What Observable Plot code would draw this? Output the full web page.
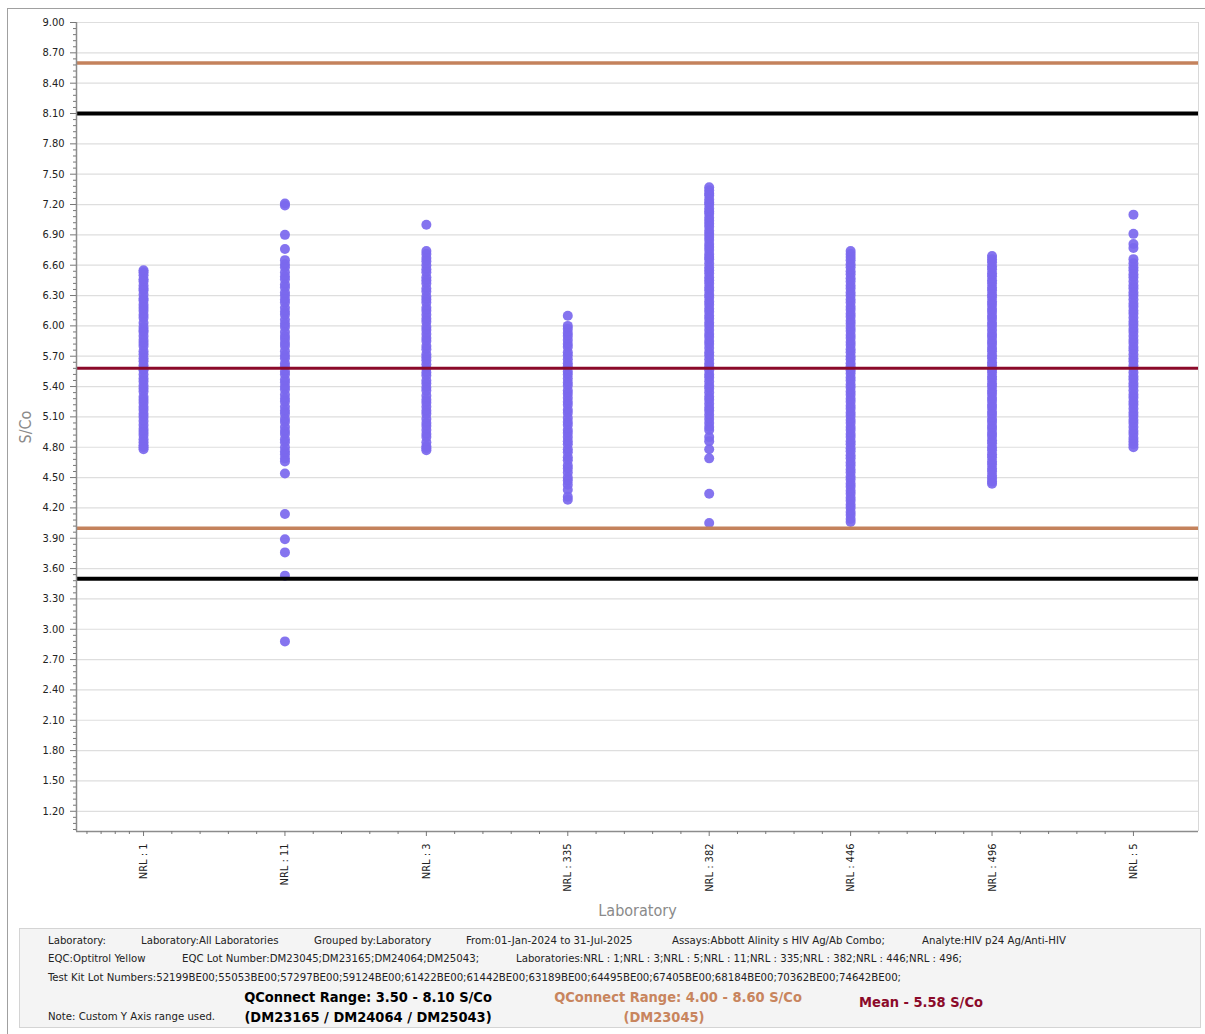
<!DOCTYPE html>
<html>
<head>
<meta charset="utf-8">
<script src="https://cdn.jsdelivr.net/npm/d3@7"></script>
<script src="https://cdn.jsdelivr.net/npm/@observablehq/plot@0.6"></script>
<style>
  html, body { margin: 0; padding: 0; background: #fff; }
  #wrap { position: relative; width: 1205px; height: 1034px; overflow: hidden; font-family: "DejaVu Sans Condensed", "DejaVu Sans", sans-serif; }
  #frame { position: absolute; left: 7px; top: 8px; width: 1300px; height: 1100px; border-top: 1px solid #a0a0a0; border-left: 1px solid #a0a0a0; }
  #chart { position: absolute; left: 0; top: 0; }
  #chart svg [aria-label="y-axis label"] text, #chart svg [aria-label="x-axis label"] text { font-size: 16px; fill: #8a8a8a; }
  #footer { position: absolute; left: 19px; top: 928px; width: 1180px; height: 98px; background: #f4f4f4; border: 1px solid #d4d4d4; }
  .ft { position: absolute; font-size: 11.3px; color: #222; white-space: nowrap; line-height: 14px; }
  .big { position: absolute; font-size: 14.5px; font-weight: bold; white-space: nowrap; line-height: 18px; transform: translateX(-50%); }
</style>
</head>
<body>
<div id="wrap">
  <div id="frame"></div>
  <div id="chart"></div>
  <div id="footer"></div>
</div>
<script>
// ---- data ----
const labs = ["NRL : 1", "NRL : 11", "NRL : 3", "NRL : 335", "NRL : 382", "NRL : 446", "NRL : 496", "NRL : 5"];

const nrl1 = [6.55, 6.53, 6.50, 6.46, 6.44, 6.40, 6.37, 6.35, 6.31, 6.27, 6.25, 6.21, 6.18, 6.15, 6.11, 6.08, 6.03, 5.99, 5.96, 5.94, 5.90, 5.86, 5.83, 5.80, 5.75, 5.72, 5.68, 5.65, 5.61, 5.58, 5.56, 5.52, 5.48, 5.45, 5.41, 5.38, 5.35, 5.30, 5.27, 5.24, 5.20, 5.17, 5.13, 5.10, 5.06, 5.02, 4.98, 4.95, 4.92, 4.88, 4.85, 4.82, 4.80, 4.78];
const nrl11 = [7.21, 7.19, 6.90, 6.76, 6.65, 6.61, 6.58, 6.53, 6.49, 6.46, 6.41, 6.38, 6.33, 6.30, 6.26, 6.23, 6.18, 6.14, 6.11, 6.06, 6.02, 5.99, 5.94, 5.90, 5.87, 5.83, 5.80, 5.75, 5.71, 5.68, 5.63, 5.60, 5.55, 5.52, 5.47, 5.44, 5.40, 5.37, 5.32, 5.28, 5.25, 5.20, 5.16, 5.13, 5.08, 5.05, 5.00, 4.96, 4.93, 4.88, 4.85, 4.80, 4.76, 4.73, 4.69, 4.66, 4.54, 4.14, 3.89, 3.76, 3.53, 2.88];
const nrl3 = [7.00, 6.74, 6.71, 6.67, 6.64, 6.60, 6.56, 6.53, 6.48, 6.45, 6.42, 6.37, 6.34, 6.29, 6.26, 6.23, 6.18, 6.15, 6.11, 6.07, 6.04, 5.99, 5.96, 5.92, 5.88, 5.85, 5.80, 5.77, 5.72, 5.69, 5.66, 5.62, 5.58, 5.54, 5.51, 5.46, 5.43, 5.39, 5.36, 5.31, 5.27, 5.24, 5.20, 5.16, 5.13, 5.08, 5.04, 5.01, 4.97, 4.93, 4.90, 4.85, 4.81, 4.79, 4.77];
const nrl335 = [6.10, 6.00, 5.97, 5.93, 5.90, 5.86, 5.82, 5.79, 5.74, 5.71, 5.67, 5.63, 5.60, 5.55, 5.52, 5.48, 5.44, 5.41, 5.36, 5.33, 5.29, 5.25, 5.22, 5.17, 5.14, 5.09, 5.05, 5.02, 4.97, 4.94, 4.90, 4.86, 4.83, 4.78, 4.75, 4.70, 4.67, 4.62, 4.59, 4.55, 4.50, 4.47, 4.43, 4.38, 4.31, 4.28];
const nrl382 = [7.37, 7.34, 7.31, 7.29, 7.25, 7.22, 7.20, 7.16, 7.13, 7.11, 7.07, 7.04, 7.01, 6.98, 6.94, 6.91, 6.88, 6.85, 6.81, 6.78, 6.75, 6.71, 6.68, 6.66, 6.62, 6.58, 6.55, 6.52, 6.48, 6.45, 6.42, 6.38, 6.35, 6.31, 6.28, 6.24, 6.21, 6.17, 6.14, 6.10, 6.07, 6.03, 6.00, 5.96, 5.92, 5.89, 5.85, 5.82, 5.78, 5.74, 5.71, 5.67, 5.63, 5.60, 5.56, 5.52, 5.49, 5.45, 5.41, 5.38, 5.34, 5.30, 5.27, 5.23, 5.19, 5.16, 5.12, 5.08, 5.04, 5.00, 4.97, 4.90, 4.86, 4.78, 4.69, 4.34, 4.05];
const nrl446 = [6.74, 6.71, 6.68, 6.65, 6.61, 6.58, 6.54, 6.51, 6.47, 6.44, 6.40, 6.37, 6.33, 6.30, 6.26, 6.23, 6.19, 6.16, 6.12, 6.09, 6.05, 6.02, 5.98, 5.95, 5.91, 5.88, 5.84, 5.81, 5.77, 5.74, 5.70, 5.67, 5.63, 5.60, 5.56, 5.53, 5.49, 5.46, 5.42, 5.39, 5.35, 5.32, 5.28, 5.25, 5.21, 5.18, 5.14, 5.11, 5.07, 5.04, 5.00, 4.97, 4.93, 4.90, 4.86, 4.83, 4.79, 4.76, 4.72, 4.69, 4.65, 4.62, 4.58, 4.55, 4.51, 4.48, 4.44, 4.41, 4.37, 4.34, 4.30, 4.27, 4.23, 4.20, 4.16, 4.13, 4.09, 4.06];
const nrl496 = [6.69, 6.66, 6.63, 6.59, 6.56, 6.52, 6.49, 6.45, 6.42, 6.38, 6.35, 6.31, 6.28, 6.24, 6.21, 6.17, 6.14, 6.10, 6.07, 6.03, 6.00, 5.96, 5.92, 5.89, 5.85, 5.82, 5.78, 5.75, 5.71, 5.68, 5.64, 5.61, 5.57, 5.54, 5.50, 5.47, 5.43, 5.40, 5.36, 5.33, 5.29, 5.26, 5.22, 5.19, 5.15, 5.12, 5.08, 5.05, 5.01, 4.98, 4.94, 4.91, 4.87, 4.84, 4.80, 4.77, 4.73, 4.70, 4.66, 4.63, 4.59, 4.56, 4.52, 4.49, 4.46, 4.44];
const nrl5 = [7.10, 6.91, 6.81, 6.77, 6.66, 6.62, 6.58, 6.55, 6.51, 6.48, 6.44, 6.40, 6.37, 6.33, 6.30, 6.26, 6.22, 6.19, 6.15, 6.12, 6.08, 6.04, 6.01, 5.97, 5.94, 5.90, 5.86, 5.83, 5.79, 5.76, 5.72, 5.68, 5.65, 5.61, 5.58, 5.54, 5.50, 5.47, 5.43, 5.40, 5.36, 5.32, 5.29, 5.25, 5.22, 5.18, 5.14, 5.11, 5.07, 5.04, 5.00, 4.96, 4.93, 4.89, 4.86, 4.83, 4.80];

const seriesByLab = [nrl1, nrl11, nrl3, nrl335, nrl382, nrl446, nrl496, nrl5];

const yTickLabels = ["1.20", "1.50", "1.80", "2.10", "2.40", "2.70", "3.00", "3.30", "3.60", "3.90", "4.20", "4.50", "4.80", "5.10", "5.40", "5.70", "6.00", "6.30", "6.60", "6.90", "7.20", "7.50", "7.80", "8.10", "8.40", "8.70", "9.00"];
const yDomain = [1.0, 9.0];

const qconnectRange = [3.50, 8.10];          // DM23165 / DM24064 / DM25043
const qconnectRangeDM23045 = [4.00, 8.60];   // DM23045
const meanValue = [5.58];

const footerRow1 = ["Laboratory:", "Laboratory:All Laboratories", "Grouped by:Laboratory", "From:01-Jan-2024 to 31-Jul-2025", "Assays:Abbott Alinity s HIV Ag/Ab Combo;", "Analyte:HIV p24 Ag/Anti-HIV"];
const footerRow2 = ["EQC:Optitrol Yellow", "EQC Lot Number:DM23045;DM23165;DM24064;DM25043;", "Laboratories:NRL : 1;NRL : 3;NRL : 5;NRL : 11;NRL : 335;NRL : 382;NRL : 446;NRL : 496;"];
const footerRow3 = ["Test Kit Lot Numbers:52199BE00;55053BE00;57297BE00;59124BE00;61422BE00;61442BE00;63189BE00;64495BE00;67405BE00;68184BE00;70362BE00;74642BE00;"];
const footerNote = "Note: Custom Y Axis range used.";

// ---- build ----
const points = seriesByLab.flatMap((vals, i) => vals.map(v => ({lab: labs[i], xi: i, v})));
const xDomain = [-0.474, labs.length - 1 + 0.46];
const yTicks = yTickLabels.map(Number);
const yMinor = d3.range(1.02, 9.0, 0.06).filter(t => !yTicks.some(m => Math.abs(m - t) < 1e-6));
const xMinor = [-0.4, -0.3, -0.2, -0.1].concat(d3.range(labs.length - 1).flatMap(i => [0.2, 0.4, 0.6, 0.8].map(f => i + f)));

const chart = Plot.plot({
  width: 1205,
  height: 928,
  marginLeft: 76,
  marginRight: 7,
  marginTop: 22,
  marginBottom: 97,
  style: {fontFamily: "'DejaVu Sans Condensed', 'DejaVu Sans', sans-serif", fontSize: "11px", color: "#222", background: "transparent", overflow: "visible"},
  x: {domain: xDomain},
  y: {domain: yDomain},
  marks: [
    Plot.gridY(yTicks, {stroke: "#dedede", strokeOpacity: 1, strokeWidth: 1.2}),
    Plot.ruleX([xDomain[1]], {stroke: "#d8d8d8"}),
    Plot.dot(points, {x: "xi", y: "v", r: 5, fill: "#7B68EE", fillOpacity: 0.92, stroke: "none"}),
    Plot.ruleY(qconnectRangeDM23045, {stroke: "#C4825C", strokeWidth: 3.5}),
    Plot.ruleY(qconnectRange, {stroke: "#000", strokeWidth: 4}),
    Plot.ruleY(meanValue, {stroke: "#8B0A2A", strokeWidth: 3}),
    Plot.ruleY([yDomain[0]], {stroke: "#8c8c8c", strokeWidth: 1.5}),
    Plot.ruleX([xDomain[0]], {stroke: "#8c8c8c", strokeWidth: 1.5}),
    Plot.axisY(yTicks, {tickSize: 6, tickPadding: 6, stroke: "#777", fill: "#222", tickFormat: d => d.toFixed(2), label: "S/Co", labelArrow: "none", labelAnchor: "center", labelOffset: 57}),
    Plot.axisY(yMinor, {tickSize: 3, stroke: "#777", tickFormat: () => "", label: null}),
    Plot.axisX(d3.range(labs.length), {tickSize: 5, tickPadding: 7, stroke: "#777", fill: "#222", tickRotate: -90, tickFormat: i => labs[i], label: "Laboratory", labelArrow: "none", labelAnchor: "center", labelOffset: 84}),
    Plot.axisX(xMinor, {tickSize: 3, stroke: "#777", tickFormat: () => "", label: null})
  ]
});
document.getElementById("chart").appendChild(chart);

// ---- footer ----
const footer = document.getElementById("footer");
function addText(cls, text, left, top, color) {
  const s = document.createElement("span");
  s.className = cls;
  s.textContent = text;
  s.style.left = left + "px";
  s.style.top = top + "px";
  if (color) s.style.color = color;
  footer.appendChild(s);
}
// positions relative to footer box (left 19, top 928)
const row1X = [28, 121, 294, 446, 652, 902];
footerRow1.forEach((t, i) => addText("ft", t, row1X[i], 5));
const row2X = [28, 162, 496];
footerRow2.forEach((t, i) => addText("ft", t, row2X[i], 23));
addText("ft", footerRow3[0], 28, 42);
addText("ft", footerNote, 28, 81);
addText("big", `QConnect Range: ${qconnectRange[0].toFixed(2)} - ${qconnectRange[1].toFixed(2)} S/Co`, 348, 59, "#000");
addText("big", "(DM23165 / DM24064 / DM25043)", 348, 79, "#000");
addText("big", `QConnect Range: ${qconnectRangeDM23045[0].toFixed(2)} - ${qconnectRangeDM23045[1].toFixed(2)} S/Co`, 658, 59, "#C8855E");
addText("big", "(DM23045)", 644, 79, "#C8855E");
addText("big", `Mean - ${meanValue[0].toFixed(2)} S/Co`, 901, 64, "#8B0A2A");
</script>
</body>
</html>
